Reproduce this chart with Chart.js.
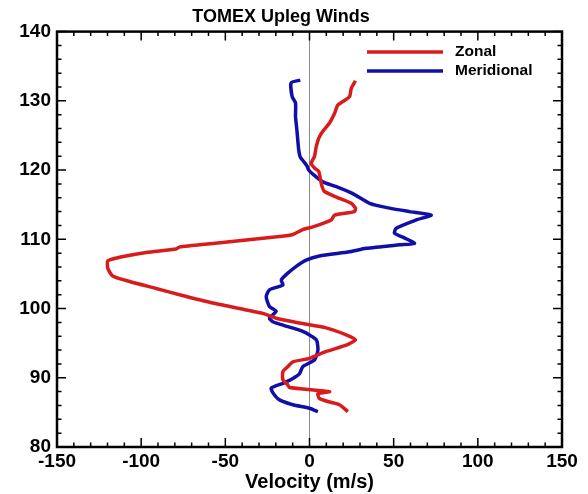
<!DOCTYPE html>
<html>
<head>
<meta charset="utf-8">
<script src="https://cdn.jsdelivr.net/npm/chart.js@4"></script>
<style>
  html, body { margin: 0; padding: 0; background: #fff; }
  #wrap { width: 588px; height: 494px; }
</style>
</head>
<body>
<div id="wrap"><canvas id="windChart"></canvas></div>
<script>
// Altitude (km) and velocity (m/s) profiles
const zonalAlt = [85.1, 86.1, 86.5, 87.0, 87.7, 88.0, 88.6, 89.0, 89.7, 90.9, 91.6, 92.3, 92.8, 93.8, 94.7, 95.5, 96.2, 97.2, 97.9, 98.6, 99.3, 99.8, 100.8, 102.0, 102.9, 103.9, 104.7, 105.8, 106.9, 107.4, 108.1, 108.6, 108.9, 109.4, 109.9, 110.4, 110.7, 111.4, 111.8, 112.8, 113.5, 114.0, 114.5, 115.2, 115.9, 116.9, 117.6, 118.8, 119.8, 120.3, 121.0, 122.0, 123.4, 124.6, 125.6, 126.8, 128.2, 129.4, 129.9, 130.6, 131.8, 132.9];
const zonalVel = [22.8, 17.8, 11.9, 5.9, 5.0, 11.9, -11.9, -13.0, -15.8, -15.8, -12.9, -9.9, 0, 9.9, 21.8, 27.3, 21.8, 9.9, -5.9, -19.8, -27.7, -37.6, -57.4, -77.2, -91.1, -106.9, -116.9, -119.8, -119.8, -112.9, -97.0, -79.2, -77.2, -57.4, -37.6, -17.8, -9.9, -4.0, 2.0, 12.9, 14.9, 26.7, 27.3, 24.8, 17.8, 8.9, 7.5, 6.4, 5.5, 3.0, 1.0, 3.0, 4.0, 5.5, 7.9, 11.9, 14.9, 16.8, 19.8, 23.8, 24.8, 27.3];

const merAlt = [85.1, 85.6, 86.1, 86.8, 87.5, 88.5, 89.2, 89.9, 90.6, 91.6, 92.6, 94.0, 95.5, 96.7, 97.6, 98.1, 98.6, 99.6, 100.3, 101.7, 102.7, 103.4, 104.1, 104.9, 106.1, 107.0, 107.6, 108.2, 108.7, 109.2, 109.4, 110.2, 110.9, 111.6, 112.8, 113.5, 114.0, 114.5, 115.2, 116.6, 117.6, 118.3, 119.3, 120.0, 120.6, 121.1, 121.9, 122.9, 125.8, 127.7, 129.7, 130.6, 132.6, 133.0];
const merVel = [5.0, 0, -9.9, -17.8, -20.8, -22.8, -15.8, -9.9, -5.9, -4.0, 3.0, 5.0, 4.0, -4.0, -15.8, -21.8, -23.8, -19.8, -23.8, -25.7, -23.8, -15.8, -16.8, -13.9, -7.9, -2.0, 5.9, 23.8, 33.7, 53.5, 62.4, 56.4, 50.5, 51.5, 63.4, 72.3, 59.4, 47.5, 35.7, 25.7, 15.9, 7.9, 2.5, -0.5, -1.5, -3.0, -5.5, -6.4, -7.5, -8.3, -8.3, -10.3, -10.9, -5.5];

const seriesNames = ['Zonal', 'Meridional'];
const seriesColors = ['#d81c1c', '#1010a8'];

const FONT = '"Liberation Sans", Arial, sans-serif';

function toPoints(vel, alt) {
    return vel.map((v, i) => ({ x: v, y: alt[i] }));
}

// Frame, inward major/minor ticks on all sides, and the inset legend
const framePlugin = {
    id: 'frame',
    afterDatasetsDraw(chart) {
        const { ctx, chartArea: a, scales } = chart;
        const xs = scales.x, ys = scales.y;
        ctx.save();
        ctx.strokeStyle = '#000';
        ctx.lineWidth = 1.5;
        for (let v = -150; v <= 150; v += 10) {
            const px = xs.getPixelForValue(v);
            const len = v % 50 === 0 ? 9 : 4.5;
            ctx.beginPath();
            ctx.moveTo(px, a.bottom); ctx.lineTo(px, a.bottom - len);
            ctx.moveTo(px, a.top); ctx.lineTo(px, a.top + len);
            ctx.stroke();
        }
        for (let h = 80; h <= 140; h += 2) {
            const py = ys.getPixelForValue(h);
            const len = h % 10 === 0 ? 9 : 4.5;
            ctx.beginPath();
            ctx.moveTo(a.left, py); ctx.lineTo(a.left + len, py);
            ctx.moveTo(a.right, py); ctx.lineTo(a.right - len, py);
            ctx.stroke();
        }
        ctx.lineWidth = 2.5;
        ctx.strokeRect(a.left, a.top, a.right - a.left, a.bottom - a.top);

        // legend
        ctx.font = 'bold 15.5px ' + FONT;
        ctx.textBaseline = 'middle';
        ctx.fillStyle = '#000';
        seriesNames.forEach((name, i) => {
            const y = 52 + i * 19;
            ctx.strokeStyle = seriesColors[i];
            ctx.lineWidth = 3.5;
            ctx.beginPath();
            ctx.moveTo(367, y); ctx.lineTo(443, y);
            ctx.stroke();
            ctx.fillText(name, 455, y);
        });
        ctx.restore();
    }
};

new Chart(document.getElementById('windChart'), {
    type: 'scatter',
    data: {
        datasets: [
            {
                label: seriesNames[0],
                data: toPoints(zonalVel, zonalAlt),
                borderColor: seriesColors[0],
                backgroundColor: seriesColors[0],
                borderWidth: 3.5,
                showLine: true,
                pointRadius: 0,
                tension: 0.2
            },
            {
                label: seriesNames[1],
                data: toPoints(merVel, merAlt),
                borderColor: seriesColors[1],
                backgroundColor: seriesColors[1],
                borderWidth: 3.5,
                showLine: true,
                pointRadius: 0,
                tension: 0.2
            }
        ]
    },
    options: {
        responsive: true,
        maintainAspectRatio: false,
        animation: false,
        layout: { padding: { left: 0, right: 26, top: 0, bottom: 0 } },
        plugins: {
            legend: { display: false },
            tooltip: { enabled: false },
            title: {
                display: true,
                text: 'TOMEX Upleg Winds',
                color: '#000',
                font: { family: FONT, size: 18, weight: 'bold' },
                padding: { top: 6, bottom: 4 }
            }
        },
        scales: {
            x: {
                type: 'linear',
                min: -150,
                max: 150,
                afterFit(scale) { scale.height = 47; },
                ticks: {
                    stepSize: 50,
                    padding: 3,
                    color: '#000',
                    font: { family: FONT, size: 19, weight: 'bold' },
                    maxRotation: 0
                },
                grid: {
                    drawTicks: false,
                    color: ctx => ctx.tick && ctx.tick.value === 0 ? '#8c8c8c' : 'rgba(0,0,0,0)',
                    lineWidth: 1
                },
                border: { display: false },
                title: {
                    display: true,
                    text: 'Velocity (m/s)',
                    color: '#000',
                    font: { family: FONT, size: 20, weight: 'bold' },
                    padding: { top: 0, bottom: 0 }
                }
            },
            y: {
                type: 'linear',
                min: 80,
                max: 140,
                afterFit(scale) { scale.width = 57; },
                ticks: {
                    stepSize: 10,
                    padding: 6,
                    color: '#000',
                    font: { family: FONT, size: 19, weight: 'bold' }
                },
                grid: { display: false, drawTicks: false },
                border: { display: false }
            }
        }
    },
    plugins: [framePlugin]
});
</script>
</body>
</html>
